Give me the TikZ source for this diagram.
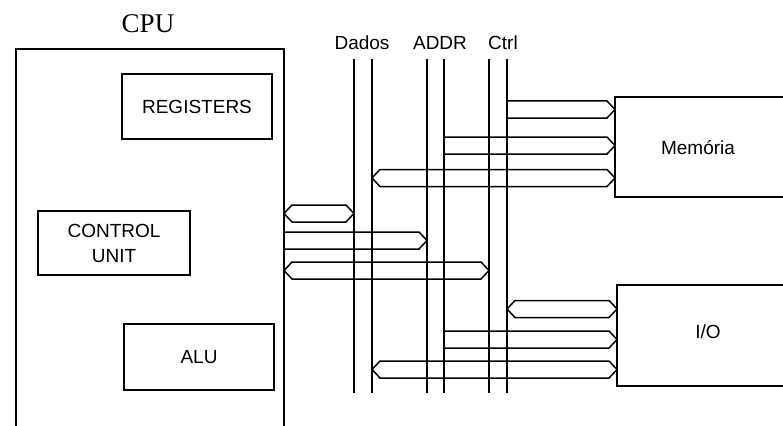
\documentclass[tikz,border=0pt]{standalone}
\usepackage{fontspec}
\setmainfont{Liberation Sans}
\newfontfamily\cpufont{Liberation Serif}
\usetikzlibrary{calc}
% bus arrow, flat left end
\newcommand{\busR}[3]{\draw[bus] ($(#1|-0,#3)+(0,-8.5)$) -- ($(#2|-0,#3)+(-8,-8.5)$) -- (#2|-0,#3) -- ($(#2|-0,#3)+(-8,8.5)$) -- ($(#1|-0,#3)+(0,8.5)$);}
% bus arrow, both ends pointed
\newcommand{\busLR}[3]{\draw[bus] ($(#1|-0,#3)+(8,-8.5)$) -- ($(#2|-0,#3)+(-8,-8.5)$) -- (#2|-0,#3) -- ($(#2|-0,#3)+(-8,8.5)$) -- ($(#1|-0,#3)+(8,8.5)$) -- (#1|-0,#3) -- cycle;}
\begin{document}
\begin{tikzpicture}[x=1pt, y=-1pt, line width=1.5pt, font=\fontsize{19}{25}\selectfont,
 box/.style={draw,outer sep=0pt,inner sep=0pt,anchor=north west,align=center},
 bus/.style={line width=1.5pt,line join=miter}]
\useasboundingbox (0,0) rectangle (783,425);
\clip (0,0) rectangle (783,425);
% CPU and its parts
\node[box,minimum width=268pt,minimum height=420pt] (cpu) at (16,49) {};
\node[font=\cpufont\fontsize{27}{30}\selectfont] (cputxt) at (148,24) {CPU};
\node[box,minimum width=150pt,minimum height=65pt] (reg) at (122,74) {REGISTERS};
\node[box,minimum width=152pt,minimum height=64pt] (cu) at (38,211) {CONTROL\\UNIT};
\node[box,minimum width=150pt,minimum height=66pt] (alu) at (124,324) {ALU};
% memory and I/O
\node[box,minimum width=200pt,minimum height=100pt] (mem) at (615,97) {};
\node (memtxt) at (698,148) {Memória};
\node[box,minimum width=200pt,minimum height=101pt] (io) at (617,285) {};
\node (iotxt) at (708,332) {I/O};
% buses
\foreach \n/\x in {d1/354,d2/372,a1/427,a2/444,c1/489,c2/507}{
 \coordinate (\n) at (\x,59);
 \draw (\n) -- (\n|-0,393);
}
\node (dados) at (362,43) {Dados};
\node (addr) at (440,43) {ADDR};
\node (ctrl) at (503,43) {Ctrl};
\busR{c2}{mem.west}{109.5}
\busR{a2}{mem.west}{145.5}
\busLR{d2}{mem.west}{178}
\busLR{cpu.east}{d1}{213.5}
\busR{cpu.east}{a1}{240.5}
\busLR{cpu.east}{c1}{270.5}
\busLR{c2}{io.west}{309}
\busR{a2}{io.west}{339.5}
\busLR{d2}{io.west}{369.5}
\end{tikzpicture}
\end{document}
